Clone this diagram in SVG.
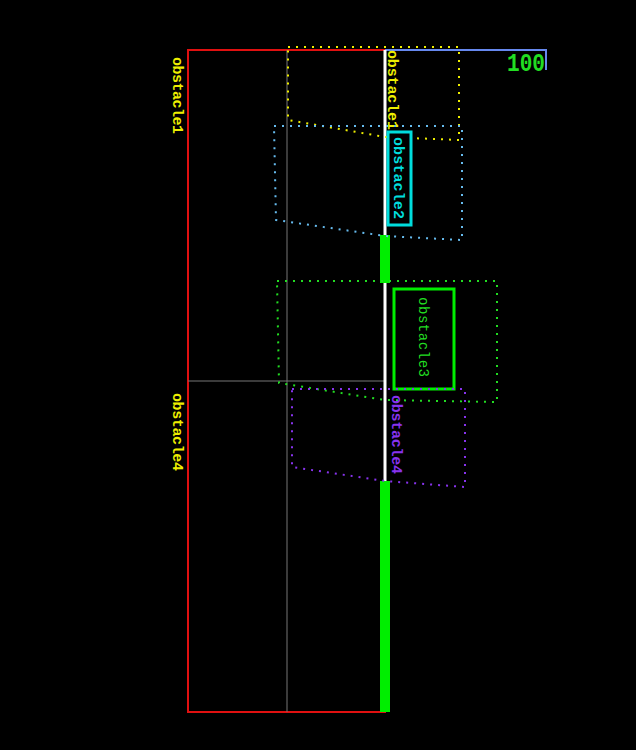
<svg xmlns="http://www.w3.org/2000/svg" width="636" height="750" viewBox="0 0 636 750">
<style>
.lbl{font-family:"Liberation Mono",monospace;font-weight:bold;font-size:15px}
.dot{fill:none;stroke-width:2;stroke-dasharray:2 6}
</style>
<rect width="636" height="750" fill="#000"/>
<g id="frame">
<rect x="188" y="50" width="197" height="662" fill="none" stroke="#e01010" stroke-width="2"/>
<line x1="287" y1="50" x2="287" y2="712" stroke="#777"/>
<line x1="188" y1="381" x2="385" y2="381" stroke="#777"/>
<polyline points="385,50 546,50 546,70" fill="none" stroke="#6688ee" stroke-width="2"/>
<text x="507" y="71" fill="#22dd22" style="font-family:'Liberation Mono',monospace;font-weight:bold;font-size:25px" textLength="38" lengthAdjust="spacingAndGlyphs">100</text>
</g>
<g id="connectors">
<line x1="385" y1="50" x2="385" y2="481" stroke="#fff" stroke-width="3"/>
<rect x="380" y="235" width="10" height="48" fill="#00ee00"/>
<rect x="380" y="481" width="10" height="231" fill="#00ee00"/>
</g>
<g id="obstacle1">
<path class="dot" stroke="#eeee00" d="M288,47 H459 V140 L385,137 L288,120 Z"/>
<text class="lbl" fill="#eeee00" transform="translate(173,57) rotate(90)" textLength="77">obstacle1</text>
<text class="lbl" fill="#eeee00" transform="translate(388,50) rotate(90)" textLength="80">obstacle1</text>
</g>
<g id="obstacle2">
<path class="dot" stroke="#66bbee" d="M274,126 H462 V240 L385,236 L276,220 Z"/>
<rect x="388" y="132" width="23" height="93" fill="#000" stroke="#00dddd" stroke-width="3"/>
<text class="lbl" fill="#00dddd" transform="translate(394,137) rotate(90)" textLength="82">obstacle2</text>
</g>
<g id="obstacle3">
<path class="dot" stroke="#22dd22" d="M277,281 H497 V402 L385,400 L279,383 Z"/>
<rect x="394" y="289" width="60" height="100" fill="none" stroke="#00ee00" stroke-width="3"/>
<text fill="#22dd22" font-family="Liberation Mono,monospace" font-size="14" transform="translate(419,297) rotate(90)" textLength="80">obstacle3</text>
</g>
<g id="obstacle4">
<path class="dot" stroke="#8833ee" d="M292,389 H465 V487 L385,481 L292,467 Z"/>
<text class="lbl" fill="#eeee00" transform="translate(173,393) rotate(90)" textLength="78">obstacle4</text>
<text class="lbl" fill="#8833ee" transform="translate(392,395) rotate(90)" textLength="79">obstacle4</text>
</g>
</svg>
